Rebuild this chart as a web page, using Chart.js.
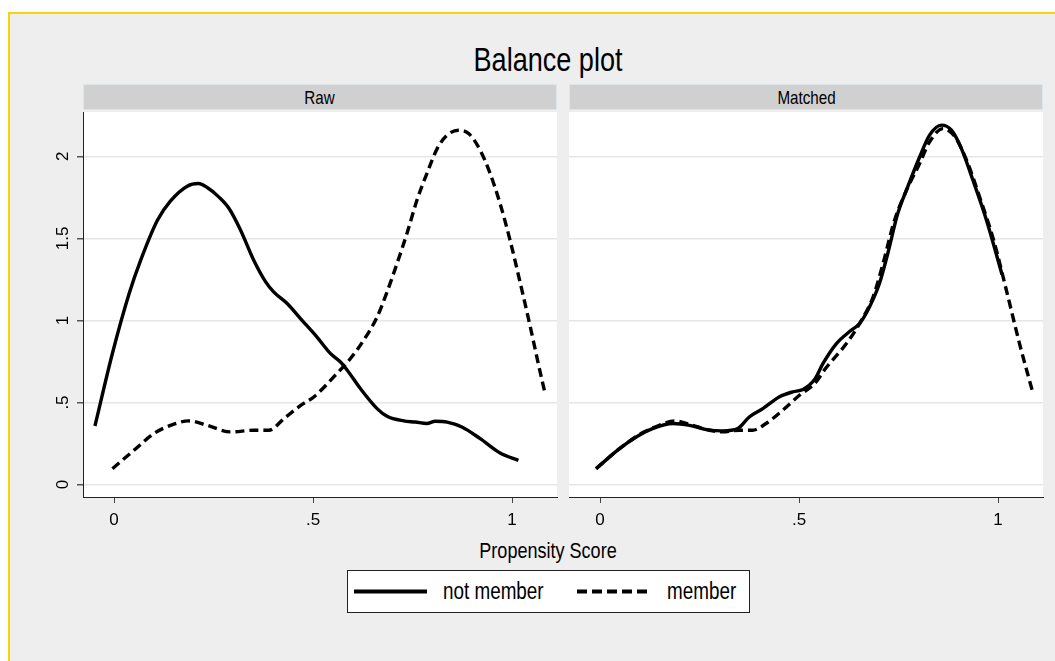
<!DOCTYPE html>
<html>
<head>
<meta charset="utf-8">
<script src="https://cdn.jsdelivr.net/npm/chart.js@4.4.1/dist/chart.umd.min.js"></script>
<style>
  body { margin:0; width:1055px; height:661px; overflow:hidden; background:#fff; position:relative;
         font-family:"Liberation Sans",Arial,sans-serif; }
  #frame { position:absolute; left:8px; top:12px; width:1100px; height:700px; background:#eeeeee;
           border-left:2px solid #f7d30c; border-top:2px solid #f7d30c; }
  .abs { position:absolute; }
  .center { transform:translateX(-50%) scaleX(0.82); white-space:nowrap; }
  .strip { position:absolute; top:84px; height:26px; background:#d0d0d0; border:1px solid #dfe6ea;
           box-sizing:border-box; text-align:center; line-height:25px; font-size:18.5px; color:#000; }
  .strip span { display:inline-block; transform:scaleX(0.82); }
  #legend { position:absolute; left:347px; top:570px; width:403px; height:43px; box-sizing:border-box;
            background:#fff; border:1.5px solid #222; }
  #legend canvas { position:absolute; top:0; }
  #legend span { position:absolute; top:0; line-height:40px; font-size:23px; color:#000;
                 transform:scaleX(0.82); transform-origin:left center; white-space:nowrap; }
</style>
</head>
<body>
<div id="frame"></div>
<div class="abs center" style="left:548px; top:40px; line-height:40px; font-size:33px;">Balance plot</div>
<div class="strip" style="left:83px; width:474px;"><span id="strip0"></span></div>
<div class="strip" style="left:569px; width:474px;"><span id="strip1"></span></div>
<canvas id="rawChart" class="abs" style="left:20px; top:98px;"></canvas>
<canvas id="matchedChart" class="abs" style="left:569px; top:98px;"></canvas>
<div class="abs center" style="left:548px; top:538px; line-height:26px; font-size:22px;">Propensity Score</div>
<div id="legend"></div>
<script>
/* ------------------ Data ------------------ */
const panelTitles = ["Raw", "Matched"];
const seriesNames = ["not member", "member"];
const xTicks = [0, 0.5, 1];
const yTicks = [0, 0.5, 1, 1.5, 2];

const rawNotMemberX = [-0.048,-0.004,0.038,0.067,0.109,0.142,0.184,0.212,0.234,0.263,0.289,0.318,0.351,0.381,0.401,0.435,0.469,0.510,0.544,0.569,0.586,0.619,0.661,0.686,0.728,0.757,0.786,0.807,0.837,0.874,0.920,0.970,1.016];
const rawNotMemberY = [0.357,0.80,1.164,1.367,1.61,1.728,1.818,1.834,1.81,1.753,1.682,1.55,1.367,1.235,1.174,1.103,1.01,0.899,0.798,0.747,0.697,0.585,0.463,0.416,0.388,0.381,0.372,0.386,0.381,0.351,0.280,0.193,0.148];

const rawMemberX = [-0.004,0.050,0.100,0.142,0.188,0.234,0.293,0.351,0.389,0.427,0.469,0.502,0.552,0.594,0.627,0.661,0.686,0.711,0.736,0.761,0.786,0.812,0.837,0.866,0.891,0.920,0.945,0.970,0.995,1.021,1.046,1.066,1.083];
const rawMemberY = [0.097,0.209,0.311,0.361,0.388,0.361,0.321,0.331,0.331,0.402,0.483,0.534,0.656,0.768,0.879,1.021,1.174,1.347,1.53,1.732,1.895,2.047,2.129,2.159,2.139,2.037,1.895,1.712,1.489,1.225,0.960,0.737,0.555];

const matchedNotMemberX = [-0.010,0.049,0.091,0.132,0.183,0.225,0.267,0.308,0.346,0.375,0.409,0.451,0.484,0.510,0.539,0.560,0.594,0.631,0.652,0.677,0.702,0.723,0.748,0.773,0.803,0.828,0.858,0.883,0.908,0.937,0.971,1.010];
const matchedNotMemberY = [0.097,0.219,0.290,0.341,0.372,0.361,0.335,0.327,0.341,0.412,0.463,0.535,0.565,0.58,0.64,0.737,0.859,0.940,0.981,1.082,1.225,1.408,1.651,1.814,1.996,2.129,2.190,2.159,2.047,1.854,1.611,1.28];

const matchedMemberX = [-0.010,0.049,0.103,0.149,0.187,0.225,0.275,0.308,0.350,0.383,0.417,0.459,0.501,0.539,0.568,0.619,0.652,0.686,0.711,0.740,0.770,0.803,0.828,0.862,0.892,0.921,0.955,0.989,1.021,1.054,1.088];
const matchedMemberY = [0.097,0.219,0.311,0.361,0.388,0.367,0.331,0.321,0.331,0.331,0.372,0.453,0.544,0.615,0.712,0.859,0.981,1.143,1.347,1.611,1.793,1.956,2.088,2.169,2.118,1.976,1.743,1.489,1.184,0.859,0.555];

/* ------------------ Setup ------------------ */
Chart.defaults.font.family = '"Liberation Sans",Arial,sans-serif';
Chart.defaults.color = "#000";

panelTitles.forEach((t, i) => { document.getElementById("strip" + i).textContent = t; });

const dashPattern = [9, 5];
const fmt = v => (v > 0 && v < 1) ? String(v).slice(1) : String(v);
const pts = (xs, ys) => xs.map((x, i) => ({ x: x, y: ys[i] }));

// white plot region, the rest of the canvas stays transparent
const plotBg = {
  id: "plotBg",
  beforeDraw(chart) {
    const { ctx, chartArea: a } = chart;
    ctx.save();
    ctx.fillStyle = "#fff";
    ctx.fillRect(a.left, a.top, a.width, a.height);
    ctx.restore();
  }
};

function makePanel(id, width, notX, notY, memX, memY, showY) {
  const cv = document.getElementById(id);
  cv.width = width; cv.height = 439;
  cv.style.width = width + "px"; cv.style.height = "439px";
  return new Chart(cv.getContext("2d"), {
    type: "line",
    data: {
      datasets: [
        { label: seriesNames[0], data: pts(notX, notY), borderColor: "#000", borderWidth: 3.4,
          pointRadius: 0, fill: false, cubicInterpolationMode: "monotone" },
        { label: seriesNames[1], data: pts(memX, memY), borderColor: "#000", borderWidth: 3.4,
          borderDash: dashPattern, pointRadius: 0, fill: false, cubicInterpolationMode: "monotone" }
      ]
    },
    options: {
      responsive: false, animation: false, devicePixelRatio: 1,
      layout: { padding: { top: 14, right: 4, left: 0, bottom: 0 } },
      plugins: { legend: { display: false }, tooltip: { enabled: false } },
      scales: {
        x: {
          type: "linear", min: -0.078, max: 1.113,
          afterBuildTicks: s => { s.ticks = xTicks.map(v => ({ value: v })); },
          afterFit: s => { s.height = 40; },
          border: { display: true, color: "#222", width: 1 },
          grid: { drawOnChartArea: false, drawTicks: true, tickLength: 6, tickColor: "#444" },
          ticks: { font: { size: 17 }, padding: 7, callback: v => fmt(v), maxRotation: 0 }
        },
        y: {
          min: -0.0756, max: 2.27,
          afterBuildTicks: s => { s.ticks = yTicks.map(v => ({ value: v })); },
          afterFit: s => { s.width = showY ? 63 : 0; },
          border: { display: showY, color: "#222", width: 1 },
          grid: { color: "#e6e6e6", lineWidth: 1.5, drawTicks: showY, tickLength: 6, tickColor: "#555" },
          ticks: { display: showY, font: { size: 17 }, padding: 2, minRotation: 90, maxRotation: 90,
                   crossAlign: "center", callback: v => fmt(v) }
        }
      }
    },
    plugins: [plotBg]
  });
}

const rawChart = makePanel("rawChart", 541, rawNotMemberX, rawNotMemberY, rawMemberX, rawMemberY, true);
const matchedChart = makePanel("matchedChart", 478, matchedNotMemberX, matchedNotMemberY, matchedMemberX, matchedMemberY, false);

/* ------------------ Legend ------------------ */
const legend = document.getElementById("legend");
const legendSpots = [{ line: 6, text: 95 }, { line: 229, text: 319 }];
seriesNames.forEach((name, i) => {
  const c = document.createElement("canvas");
  c.width = 76; c.height = 40;
  c.style.left = legendSpots[i].line + "px";
  const g = c.getContext("2d");
  g.strokeStyle = "#000"; g.lineWidth = 4;
  g.setLineDash(i === 0 ? [] : [10, 5]);
  g.beginPath(); g.moveTo(0, 20.5); g.lineTo(73, 20.5); g.stroke();
  legend.appendChild(c);
  const s = document.createElement("span");
  s.textContent = name;
  s.style.left = legendSpots[i].text + "px";
  legend.appendChild(s);
});
</script>
</body>
</html>
